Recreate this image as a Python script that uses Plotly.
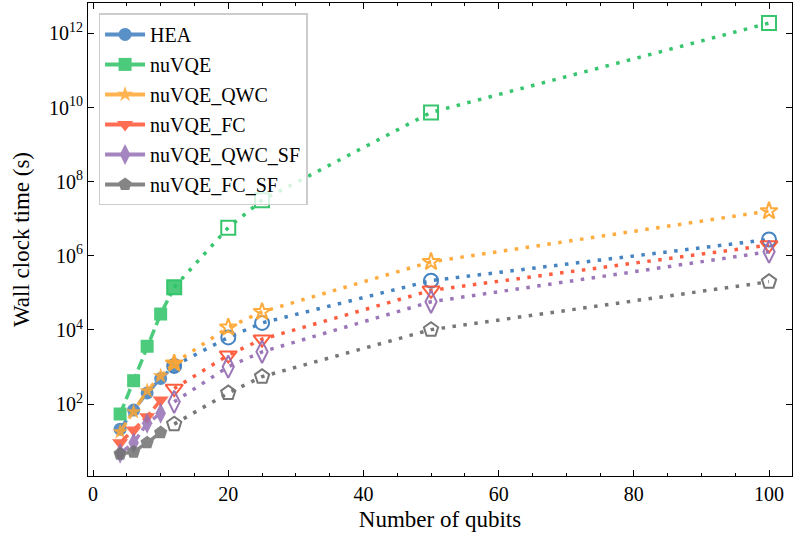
import plotly.graph_objects as go

# ---- data ----
names = ["HEA", "nuVQE", "nuVQE_QWC", "nuVQE_FC", "nuVQE_QWC_SF", "nuVQE_FC_SF"]
x_small_a = [4, 6, 8, 10, 12]
x_small_b = [4, 6, 8, 10]
x_large = [12, 20, 25, 50, 100]

hea_small = [21, 69, 200, 490, 1070]
hea_large = [1070, 6300, 15500, 2.14e5, 2.75e6]
nuvqe_small = [54, 427, 3630, 26900, 1.41e5]
nuvqe_large = [1.41e5, 5.75e6, 3.16e7, 7.4e9, 1.9e12]
qwc_small = [17.8, 61.7, 229, 575, 1260]
qwc_large = [1260, 11750, 30900, 6.9e5, 1.62e7]
fc_small = [9.1, 20, 45.7, 129]
fc_large = [263, 2090, 5620, 1.17e5, 1.95e6]
qwcsf_small = [4.7, 9.1, 30.2, 56.2]
qwcsf_large = [115, 1020, 2570, 57500, 1.29e6]
fcsf_small = [4.5, 5.1, 9.1, 17]
fcsf_large = [28.8, 200, 550, 10200, 2.0e5]

y_tickvals = [1, 1e2, 1e4, 1e6, 1e8, 1e10, 1e12]
y_ticktext = ["", "10<sup>2</sup>", "10<sup>4</sup>", "10<sup>6</sup>", "10<sup>8</sup>",
              "10<sup>10</sup>", "10<sup>12</sup>"]

colors = ["#3C7DBE", "#2DC366", "#FFA733", "#FF5536", "#9670B4", "#707070"]
symbols = ["circle", "square", "star", "triangle-down", "diamond-tall", "pentagon"]
sizes = [13, 13, 12, 14, 15, 14]

series = [
    (x_small_a, hea_small, hea_large),
    (x_small_a, nuvqe_small, nuvqe_large),
    (x_small_a, qwc_small, qwc_large),
    (x_small_b, fc_small, fc_large),
    (x_small_b, qwcsf_small, qwcsf_large),
    (x_small_b, fcsf_small, fcsf_large),
]

FONT = "Liberation Serif, DejaVu Serif, serif"
fig = go.Figure()

for i, (xs, ys, yl) in enumerate(series):
    c = colors[i]
    # dotted line + open markers (large qubit numbers)
    fig.add_trace(go.Scatter(
        x=x_large, y=yl, mode="lines+markers", showlegend=False,
        line=dict(color=c, width=3.5, dash="3.5px,7.5px"),
        marker=dict(symbol=symbols[i] + "-open", size=sizes[i] + 1, color=c,
                    line=dict(width=2, color=c)),
        opacity=0.95,
    ))
    # dashed line + filled markers (small qubit numbers)
    fig.add_trace(go.Scatter(
        x=xs, y=ys, mode="lines+markers", showlegend=False,
        line=dict(color=c, width=3.5, dash="11px,5px"),
        marker=dict(symbol=symbols[i], size=sizes[i], color=c, line=dict(width=0)),
        opacity=0.85,
    ))

# legend entries
for i, n in enumerate(names):
    fig.add_trace(go.Scatter(
        x=[None], y=[None], mode="lines+markers", name=n, legendgroup=n,
        line=dict(color=colors[i], width=4),
        marker=dict(symbol=symbols[i], size=sizes[i], color=colors[i]),
        opacity=0.85,
    ))

fig.update_layout(
    width=796, height=535,
    margin=dict(l=88, r=4, t=3, b=59),
    plot_bgcolor="white", paper_bgcolor="white",
    font=dict(family=FONT, size=18, color="black"),
    legend=dict(x=0.015, y=0.978, xanchor="left", yanchor="top",
                bgcolor="rgba(255,255,255,0.8)", bordercolor="#cccccc", borderwidth=1.5,
                font=dict(family=FONT, size=20, color="black"), itemwidth=40,
                tracegroupgap=1, traceorder="grouped"),
    showlegend=True,
)

fig.update_xaxes(
    range=[-0.75, 103.4], showgrid=False, zeroline=False,
    showline=True, linecolor="black", linewidth=1, mirror="allticks",
    ticks="inside", ticklen=6, tickwidth=1, tickcolor="black",
    tickvals=[0, 20, 40, 60, 80, 100],
    minor=dict(ticks="inside", ticklen=3, tickwidth=1, tickcolor="black", dtick=5, tick0=0),
    tickfont=dict(family=FONT, size=20, color="black"),
    title=dict(text="Number of qubits", font=dict(family=FONT, size=23, color="black"), standoff=6),
)
fig.update_yaxes(
    type="log", range=[0.06, 12.82], showgrid=False, zeroline=False,
    showline=True, linecolor="black", linewidth=1, mirror="allticks",
    ticks="inside", ticklen=6, tickwidth=1, tickcolor="black",
    tickvals=y_tickvals, ticktext=y_ticktext,
    tickfont=dict(family=FONT, size=20, color="black"),
    title=dict(text="Wall clock time (s)", font=dict(family=FONT, size=23, color="black"), standoff=12),
)

fig.write_html("out.html")
